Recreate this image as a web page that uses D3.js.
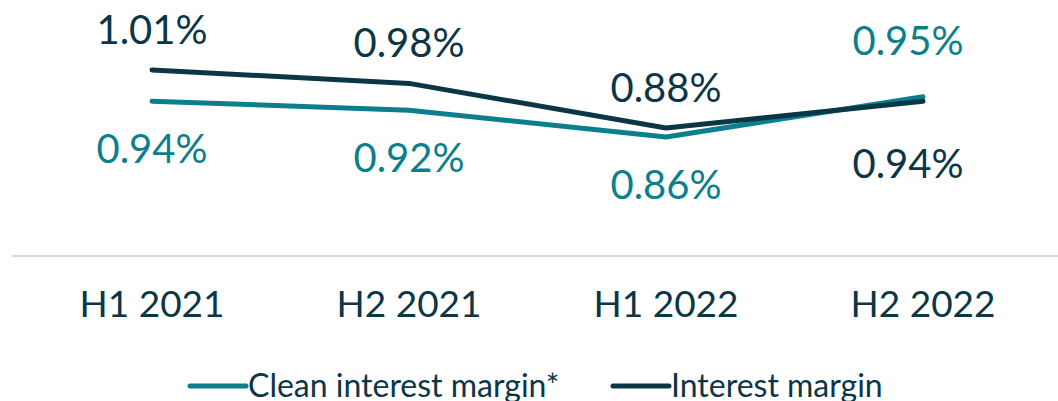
<!DOCTYPE html>
<html>
<head>
<meta charset="utf-8">
<script src="https://cdn.jsdelivr.net/npm/d3@7"></script>
<style>
  body { margin: 0; background: #fff; }
  svg { display: block; font-family: Lato, "Open Sans", sans-serif; }
</style>
</head>
<body>
<svg id="chart" width="1058" height="401"></svg>
<script>
const periods = ["H1 2021", "H2 2021", "H1 2022", "H2 2022"];
const cleanMargin = [0.94, 0.92, 0.86, 0.95];
const interestMargin = [1.01, 0.98, 0.88, 0.94];
// where each data label sits relative to its point
const cleanLabelPos = ["below", "below", "below", "above"];
const interestLabelPos = ["above", "above", "above", "below"];

const teal = "#0b7f8c";
const dark = "#0b3646";

const svg = d3.select("#chart");

const x = d3.scalePoint().domain(periods).range([152, 923]);
const y = d3.scaleLinear().domain([0.6, 1.01]).range([253, 70]);

// baseline axis
svg.append("line")
  .attr("x1", 12).attr("x2", 1058)
  .attr("y1", 256).attr("y2", 256)
  .attr("stroke", "#d9d9d9")
  .attr("stroke-width", 2);

svg.append("g")
  .selectAll("text")
  .data(periods)
  .enter()
  .append("text")
  .attr("x", (d) => x(d))
  .attr("y", 317)
  .attr("text-anchor", "middle")
  .attr("fill", dark)
  .style("font-size", "37px")
  .text((d) => d);

const series = [
  { name: "Clean interest margin*", values: cleanMargin, pos: cleanLabelPos, color: teal, up: -42, down: 62 },
  { name: "Interest margin", values: interestMargin, pos: interestLabelPos, color: dark, up: -26, down: 77 },
];

const line = d3.line()
  .x((d, i) => x(periods[i]))
  .y((d) => y(d));

series.forEach((s) => {
  svg.append("path")
    .datum(s.values)
    .attr("fill", "none")
    .attr("stroke", s.color)
    .attr("stroke-width", 5)
    .attr("stroke-linecap", "round")
    .attr("stroke-linejoin", "round")
    .attr("d", line);

  svg.append("g")
    .selectAll("text")
    .data(s.values)
    .enter()
    .append("text")
    .attr("x", (d, i) => Math.min(x(periods[i]), 908))
    .attr("y", (d, i) => y(d) + (s.pos[i] === "above" ? s.up : s.down))
    .attr("text-anchor", "middle")
    .attr("fill", s.color)
    .style("font-size", "40px")
    .text((d) => d.toFixed(2) + "%");
});

// legend
const legend = svg.append("g");
const legendX = [190, 613];
series.forEach((s, i) => {
  legend.append("line")
    .attr("x1", legendX[i]).attr("x2", legendX[i] + 56)
    .attr("y1", 386).attr("y2", 386)
    .attr("stroke", s.color)
    .attr("stroke-width", 5)
    .attr("stroke-linecap", "round");
  legend.append("text")
    .attr("x", legendX[i] + 58)
    .attr("y", 397)
    .attr("fill", dark)
    .style("font-size", "32px")
    .text(s.name);
});
</script>
</body>
</html>
